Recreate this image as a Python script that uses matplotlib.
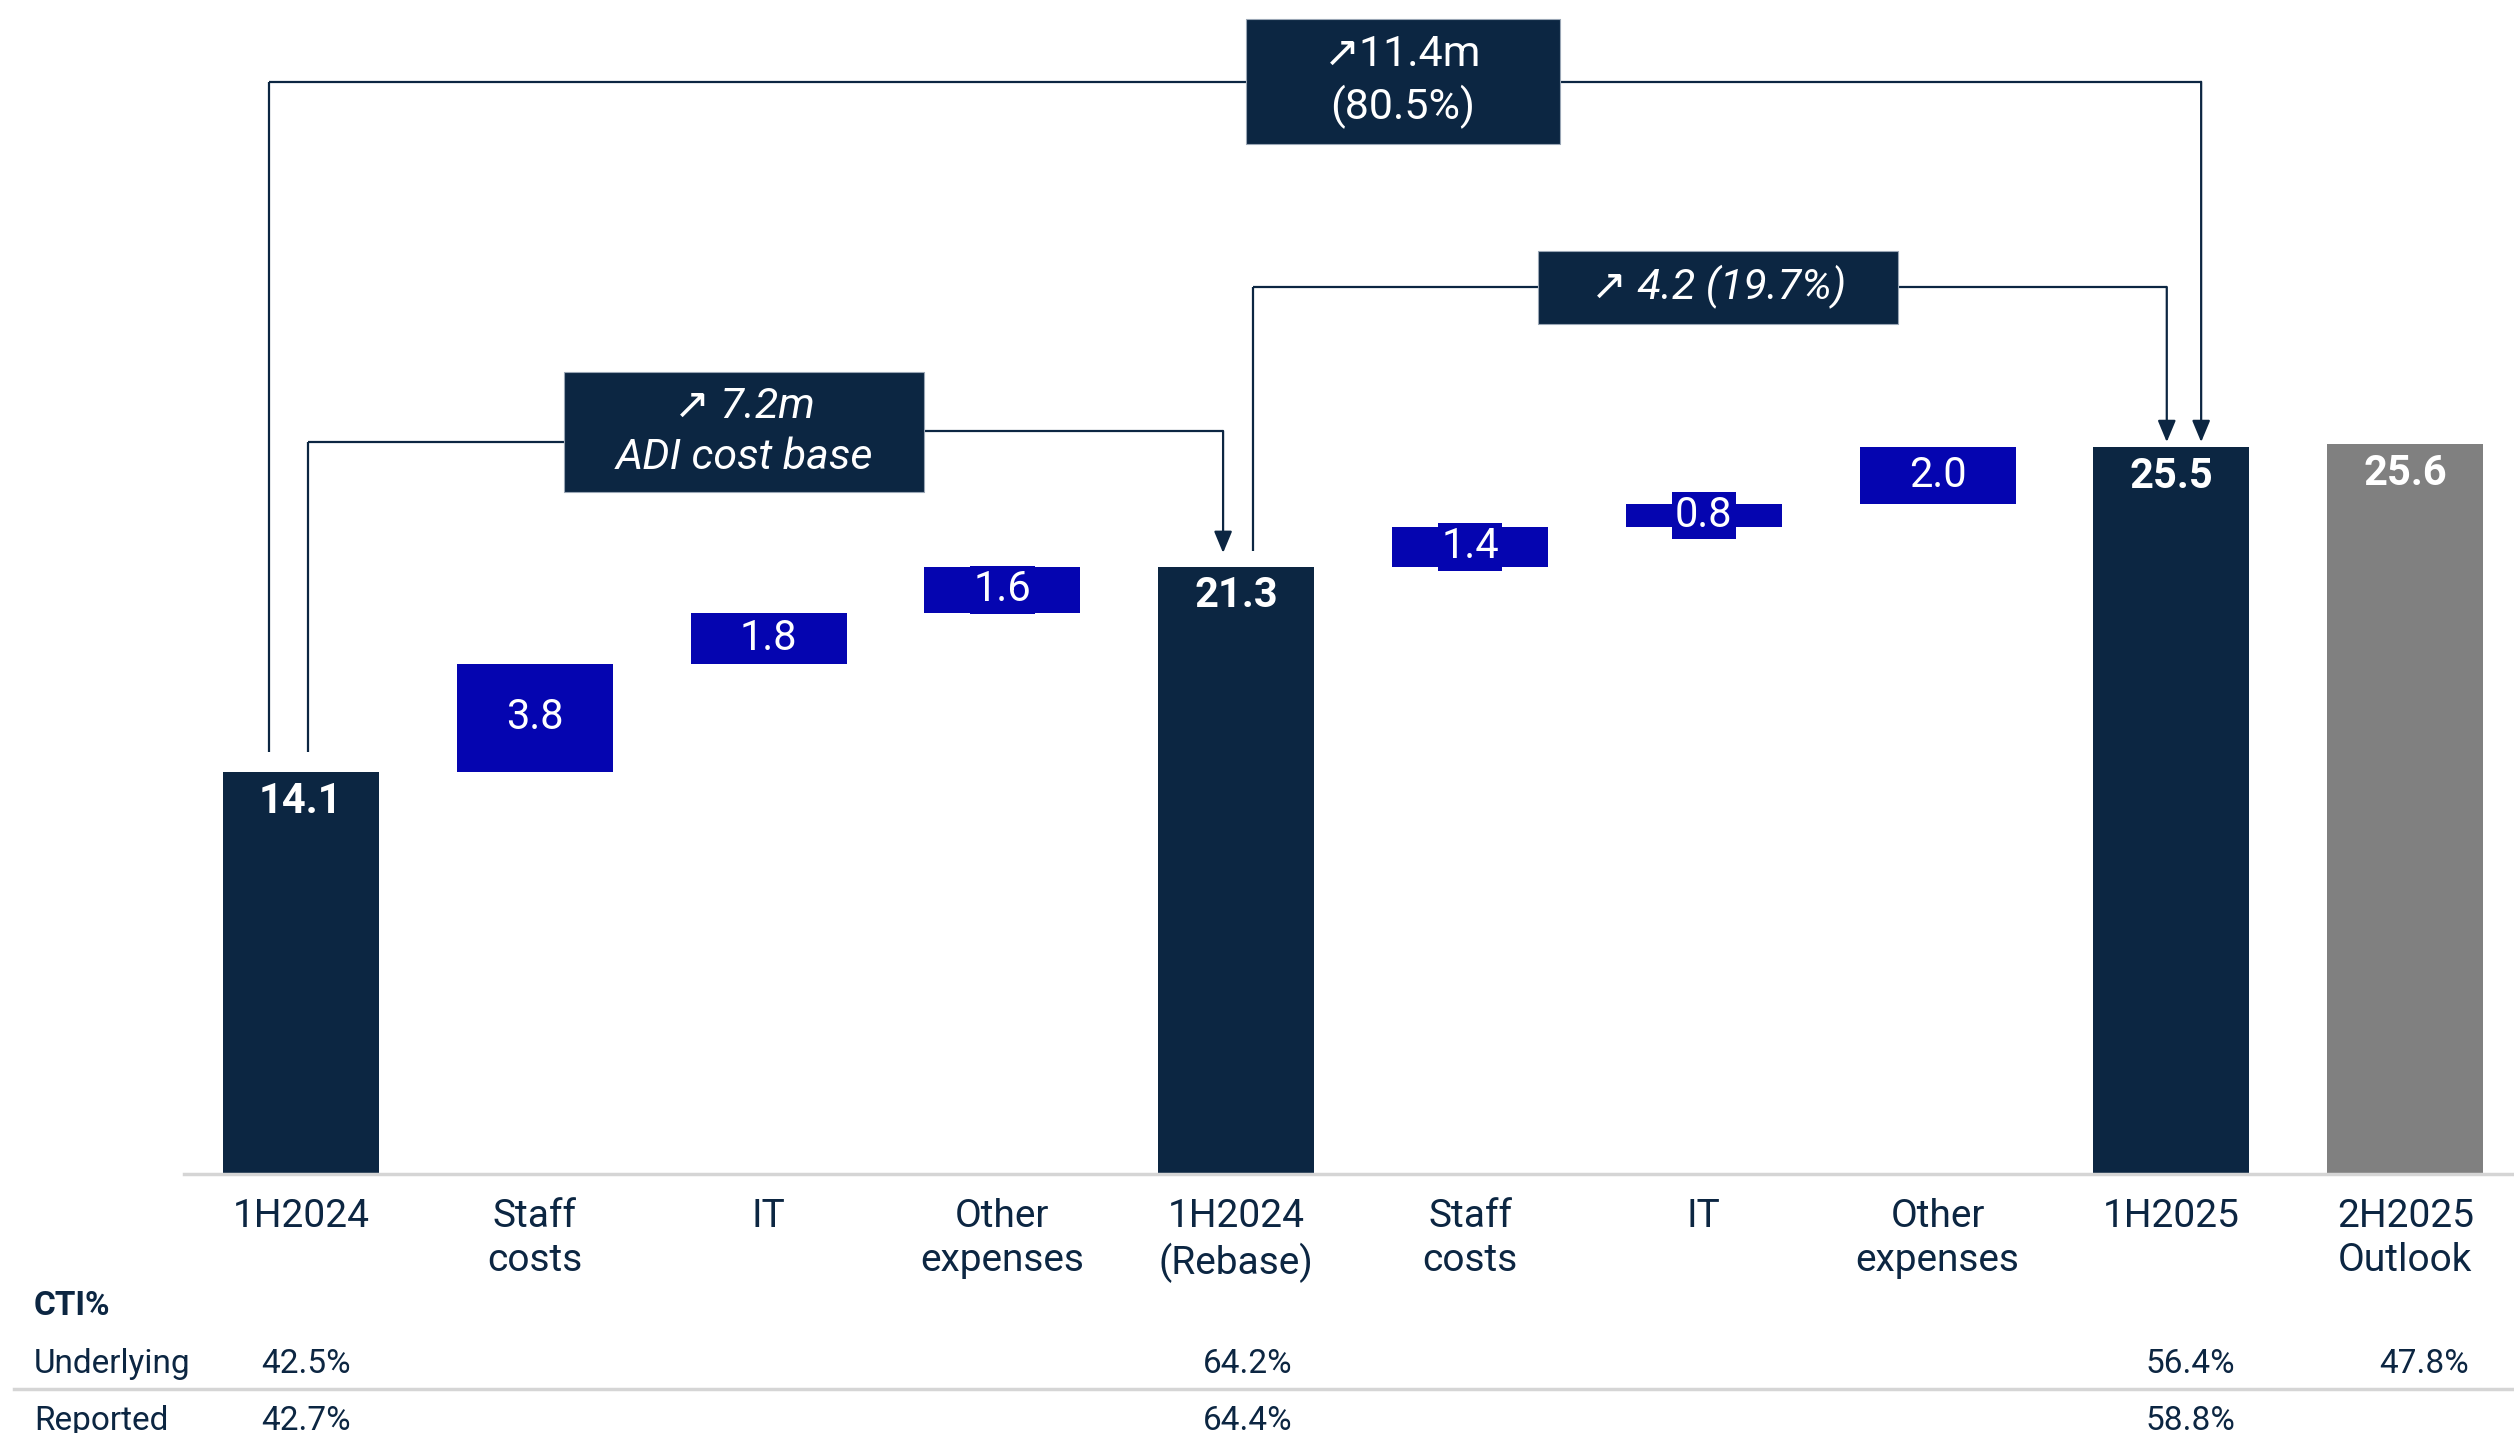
import matplotlib
matplotlib.use("Agg")
import matplotlib.pyplot as plt
from matplotlib.patches import Rectangle
from matplotlib.lines import Line2D

plt.rcParams['font.family'] = ['Roboto', 'DejaVu Sans']

# ---------------- data ----------------
categories = ["1H2024", "Staff\ncosts", "IT", "Other\nexpenses", "1H2024\n(Rebase)",
              "Staff\ncosts", "IT", "Other\nexpenses", "1H2025", "2H2025\nOutlook"]
values = [14.1, 3.8, 1.8, 1.6, 21.3, 1.4, 0.8, 2.0, 25.5, 25.6]
kinds = ["total", "delta", "delta", "delta", "total", "delta", "delta", "delta", "total", "outlook"]
value_labels = ["14.1", "3.8", "1.8", "1.6", "21.3", "1.4", "0.8", "2.0", "25.5", "25.6"]
cti_underlying = ["42.5%", "", "", "", "64.2%", "", "", "", "56.4%", "47.8%"]
cti_reported = ["42.7%", "", "", "", "64.4%", "", "", "", "58.8%", ""]
ann_total = "↗11.4m\n(80.5%)"
ann_adi = "↗ 7.2m\nADI cost base"
ann_half = "↗ 4.2 (19.7%)"

NAVY = "#0C2642"
BLUE = "#0505B0"
GREY = "#808080"
LINEGREY = "#D5D5D5"
WT = "normal"

W, H = 2514, 1433
fig = plt.figure(figsize=(W / 100, H / 100), dpi=100)
ax_bottom = (H - 1174) / H
ax = fig.add_axes([184 / W, ax_bottom, 1 - 184 / W, 1 - ax_bottom])
ax.set_xlim(-0.5, 9.465)
ax.set_ylim(0, 41.19)
for s in ["top", "right", "left"]:
    ax.spines[s].set_visible(False)
ax.spines["bottom"].set_color(LINEGREY)
ax.spines["bottom"].set_linewidth(2.5)
ax.set_yticks([])

# ---------------- bars ----------------
running = 0.0
bottoms = []
for v, k in zip(values, kinds):
    if k == "delta":
        bottoms.append(running)
        running += v
    else:
        bottoms.append(0.0)
        running = v
colors = {"total": NAVY, "delta": BLUE, "outlook": GREY}
xs = list(range(len(values)))
bw = 0.667
ax.bar(xs, values, bottom=bottoms, width=bw,
       color=[colors[k] for k in kinds], zorder=2)

for x, v, b, k, lab in zip(xs, values, bottoms, kinds, value_labels):
    if k == "delta":
        ax.text(x, b + v / 2, lab, ha="center", va="center", color="white",
                fontsize=30, fontweight=WT, zorder=4,
                bbox=dict(boxstyle="square,pad=0.08", fc=BLUE, ec="none"))
    else:
        ax.text(x, v - 0.3, lab, ha="center", va="top", color="white",
                fontsize=30, fontweight="bold", zorder=4)

ax.set_xticks(xs)
ax.set_xticklabels(categories, fontsize=28, color=NAVY, linespacing=1.26,
                   fontweight=WT)
ax.tick_params(axis="x", length=0, pad=17)

# ---------------- bridges ----------------
lw = 1.6
def seg(xa, ya, xb, yb):
    ax.plot([xa, xb], [ya, yb], color=NAVY, lw=lw, zorder=3, solid_capstyle="butt")

def arrow(x, ytop, ytip):
    ax.annotate("", xy=(x, ytip), xytext=(x, ytop),
                arrowprops=dict(arrowstyle="-|>,head_length=0.6,head_width=0.25",
                                color=NAVY, lw=lw, shrinkA=0, shrinkB=0,
                                mutation_scale=22), zorder=3)

def box(x0, x1, y0, y1, text, italic=False, size=31, ls=1.3):
    ax.add_patch(Rectangle((x0, y0), x1 - x0, y1 - y0, fc=NAVY, ec="#9aa6b5",
                           lw=0.8, zorder=5))
    ax.text((x0 + x1) / 2, (y0 + y1) / 2, text, ha="center", va="center",
            color="white", fontsize=size, style="italic" if italic else "normal",
            fontweight=WT, linespacing=ls, zorder=6)

start_top = values[0] + 0.7
# overall 1H2024 -> 1H2025
seg(-0.137, start_top, -0.137, 38.32)
seg(-0.137, 38.32, 8.127, 38.32)
arrow(8.127, 38.32, values[8] + 0.18)
box(4.04, 5.385, 36.14, 40.53, ann_total, size=31, ls=1.3)

# ADI cost base
seg(0.03, start_top, 0.03, 25.68)
seg(0.03, 25.68, 1.125, 25.68)
seg(2.665, 26.07, 3.944, 26.07)
arrow(3.944, 26.07, values[4] + 0.49)
box(1.125, 2.665, 23.93, 28.14, ann_adi, italic=True, size=31, ls=1.3)

# 1H2024 rebase -> 1H2025
seg(4.072, values[4] + 0.56, 4.072, 31.12)
seg(4.072, 31.12, 7.98, 31.12)
arrow(7.98, 31.12, values[8] + 0.18)
box(5.291, 6.831, 29.82, 32.39, ann_half, italic=True, size=31)

# ---------------- CTI table ----------------
def fy(py):
    return 1 - py / H

fs_t = 24
fig.text(34 / W, fy(1306), "CTI%", fontsize=fs_t, fontweight="bold", color=NAVY,
         ha="left", va="center")
fig.text(34 / W, fy(1364), "Underlying", fontsize=fs_t, fontweight=WT, color=NAVY,
         ha="left", va="center")
fig.text(34 / W, fy(1421), "Reported", fontsize=fs_t, fontweight=WT, color=NAVY,
         ha="left", va="center")
fig.add_artist(Line2D([14 / W, 1], [fy(1389), fy(1389)], color=LINEGREY, lw=2.5))

offsets = [0.02, 0, 0, 0, 0.05, 0, 0, 0, 0.08, 0.08]
for x, u, r, o in zip(xs, cti_underlying, cti_reported, offsets):
    X = ax.transData.transform((x + o, 0))[0] / W
    if u:
        fig.text(X, fy(1364), u, fontsize=fs_t, fontweight=WT, color=NAVY,
                 ha="center", va="center")
    if r:
        fig.text(X, fy(1421), r, fontsize=fs_t, fontweight=WT, color=NAVY,
                 ha="center", va="center")

fig.savefig("out.png", dpi=100, facecolor="white")
